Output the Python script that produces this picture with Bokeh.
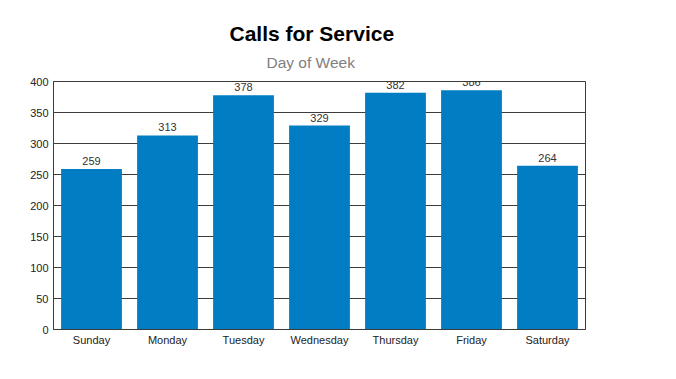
from bokeh.plotting import figure
from bokeh.models import ColumnDataSource, LabelSet, Title, FixedTicker, Range1d, FactorRange
from bokeh.core.properties import value
from bokeh.embed import file_html
from bokeh.resources import INLINE

days = ["Sunday", "Monday", "Tuesday", "Wednesday", "Thursday", "Friday", "Saturday"]
calls = [259, 313, 378, 329, 382, 386, 264]
y_ticks = [0, 50, 100, 150, 200, 250, 300, 350, 400]

src = ColumnDataSource(dict(day=days, calls=calls, lbl=[str(v) for v in calls]))

FONT = "Liberation Sans"
GRID = "#3c3c3c"

p = figure(x_range=FactorRange(*days, range_padding=0), y_range=Range1d(0, 400),
           width=660, height=363, output_backend="svg", toolbar_location=None,
           min_border_left=53, min_border_right=75, min_border_top=81, min_border_bottom=34)
p.background_fill_color = "white"
p.border_fill_color = "white"
p.outline_line_color = GRID
p.outline_line_width = 1

p.vbar(x="day", top="calls", width=0.8, source=src, color="#007DC3", line_color=None)

labels = LabelSet(x="day", y="calls", text="lbl", source=src, y_offset=4,
                  text_align="center", text_baseline="bottom",
                  text_font=value(FONT), text_font_size=value("11px"), text_color=value("#333333"))
p.add_layout(labels)

p.xgrid.grid_line_color = None
p.ygrid.grid_line_color = GRID
p.ygrid.grid_line_width = 1
p.ygrid.level = "underlay"
p.yaxis.ticker = FixedTicker(ticks=y_ticks)

for ax in (p.xaxis[0], p.yaxis[0]):
    ax.major_tick_line_color = None
    ax.minor_tick_line_color = None
    ax.major_tick_out = 0
    ax.major_tick_in = 0
    ax.axis_line_color = GRID
    ax.major_label_text_font = FONT
    ax.major_label_text_font_size = "11px"
    ax.major_label_text_color = "#222222"
p.xaxis.major_label_standoff = 4
p.yaxis.major_label_standoff = 5

p.add_layout(Title(text="Day of Week", align="left", offset=213, standoff=22, text_font=FONT,
                   text_font_size="15.5px", text_font_style="normal", text_color="#808080"), "above")
p.add_layout(Title(text="Calls for Service", align="left", offset=176, standoff=-9, text_font=FONT,
                   text_font_size="21px", text_font_style="bold", text_color="#000000"), "above")

open("out.html", "w").write(file_html(p, INLINE))
